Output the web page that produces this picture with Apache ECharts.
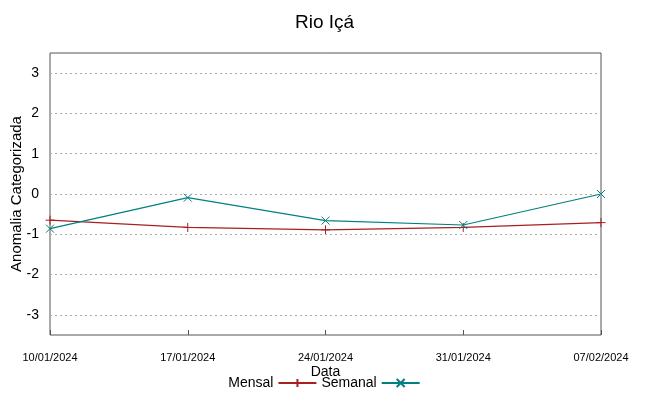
<!DOCTYPE html>
<html><head><meta charset="utf-8">
<script src="https://cdn.jsdelivr.net/npm/echarts@6/dist/echarts.min.js"></script>
<style>html,body{margin:0;padding:0;background:#fff}#c{width:649px;height:396px}</style>
</head><body><div id="c"></div>
<script>
var categories = ['10/01/2024','17/01/2024','24/01/2024','31/01/2024','07/02/2024'];
var mensal = [-0.65, -0.83, -0.89, -0.83, -0.71];
var semanal = [-0.86, -0.09, -0.66, -0.77, 0.0];
var yTicks = [-3, -2, -1, 0, 1, 2, 3];

var plusPath = 'path://M0,5L10,5M5,0L5,10';
var crossPath = 'path://M0,0L10,10M10,0L0,10';
var sans = "'Liberation Sans',Arial,sans-serif";
var chart = echarts.init(document.getElementById('c'));
chart.setOption({
  animation: false,
  backgroundColor: '#fff',
  title: { text: 'Rio Içá', left: 'center', top: 8, textStyle: { fontFamily: sans, fontWeight: 'normal', fontSize: 19, color: '#000' } },
  grid: { left: 50, right: 48, top: 53, bottom: 61, containLabel: false, outerBoundsMode: 'none', show: true, borderColor: '#555', borderWidth: 1, backgroundColor: 'transparent' },
  legend: {
    bottom: 1, left: 'center', align: 'right', itemGap: 4, itemWidth: 38, itemHeight: 10,
    textStyle: { fontFamily: sans, fontSize: 14, color: '#000' },
    data: ['Mensal', 'Semanal']
  },
  xAxis: {
    type: 'category', data: categories, boundaryGap: false,
    name: 'Data', nameLocation: 'middle', nameGap: 30, nameMoveOverlap: false,
    nameTextStyle: { fontFamily: sans, fontSize: 14, color: '#000' },
    axisLine: { show: false, onZero: false },
    axisTick: { inside: true, length: 5, lineStyle: { color: '#555' } },
    axisLabel: { margin: 17, fontFamily: sans, fontSize: 11, color: '#000', showMinLabel: true, showMaxLabel: true },
    splitLine: { show: false }
  },
  yAxis: {
    type: 'value', min: -3.5, max: 3.5, interval: 0.5,
    name: 'Anomalia Categorizada', nameLocation: 'middle', nameGap: 26, nameMoveOverlap: false,
    nameTextStyle: { fontFamily: sans, fontSize: 15, color: '#000' },
    axisLine: { show: false, onZero: false },
    axisTick: { inside: true, length: 5, lineStyle: { color: '#555' }, customValues: yTicks },
    axisLabel: { margin: 11, fontFamily: sans, fontSize: 14, color: '#000', customValues: yTicks },
    splitLine: { show: false }
  },
  series: [
    {
      name: 'Mensal', type: 'line', data: mensal,
      symbol: plusPath, symbolSize: 9, showAllSymbol: true,
      lineStyle: { color: '#a8201f', width: 1.2 },
      itemStyle: { color: '#a8201f', borderColor: '#a8201f', borderWidth: 1 },
      markLine: {
        silent: true, symbol: 'none', label: { show: false },
        lineStyle: { color: '#aaa', type: [2, 3], width: 1 },
        data: yTicks.map(function (v) { return { yAxis: v }; })
      },
      z: 3
    },
    {
      name: 'Semanal', type: 'line', data: semanal,
      symbol: crossPath, symbolSize: 8, showAllSymbol: true,
      lineStyle: { color: '#008080', width: 1.2 },
      itemStyle: { color: '#008080', borderColor: '#008080', borderWidth: 1 },
      z: 4
    }
  ]
});
</script></body></html>
